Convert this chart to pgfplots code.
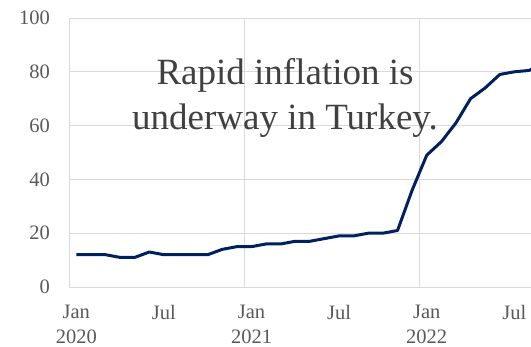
\documentclass[border=0pt]{standalone}
\usepackage{pgfplots}
\pgfplotsset{compat=1.18}
\usepackage{fontspec}
\setmainfont{Liberation Serif}
\definecolor{gridc}{HTML}{D9D9D9}
\definecolor{navy}{HTML}{002060}
\definecolor{tickc}{HTML}{595959}
\definecolor{annc}{HTML}{404040}
\begin{document}
\begin{tikzpicture}
\begin{axis}[
  scale only axis,
  width=462pt, height=269pt,
  xmin=-0.5, xmax=31.14,
  ymin=0, ymax=100,
  axis line style={draw=none},
  major tick length=0pt,
  ytick={0,20,40,60,80,100},
  ymajorgrids=true,
  grid style={draw=gridc, line width=0.8pt},
  xtick={0,6,12,18,24,30},
  xticklabels={Jan\\2020,Jul,Jan\\2021,Jul,Jan\\2022,Jul},
  extra x ticks={-0.5,11.5,23.5},
  extra x tick labels={},
  extra x tick style={xmajorgrids=true, ymajorgrids=false},
  ticklabel pos=left,
  /pgf/number format/assume math mode=true,
  yticklabel style={anchor=east, inner sep=0pt, xshift=-19pt, text=tickc, font=\fontsize{20.5}{25}\selectfont},
  xticklabel style={anchor=north, inner sep=0pt, yshift=-18pt, align=center, text=tickc, font=\fontsize{20.5}{25}\selectfont},
]
\addplot[navy, line width=3pt, line join=round] coordinates {
(0,12) (1,12) (2,12) (3,11) (4,11) (5,13) (6,12) (7,12)
(8,12) (9,12) (10,14) (11,15) (12,15) (13,16) (14,16) (15,17)
(16,17) (17,18) (18,19) (19,19) (20,20) (21,20) (22,21) (23,36)
(24,49) (25,54) (26,61) (27,70) (28,74) (29,79) (30,80) (31,80.5) (32,83)
};
\end{axis}
\node[anchor=base, inner sep=0pt, text=annc, font=\fontsize{37}{45}\selectfont] at (216pt,202pt) {Rapid inflation is};
\node[anchor=base, inner sep=0pt, text=annc, font=\fontsize{37}{45}\selectfont] at (216pt,157pt) {underway in Turkey.};
\pgfresetboundingbox
\useasboundingbox (-69pt,-60pt) rectangle (462pt,287pt);
\end{tikzpicture}
\end{document}
